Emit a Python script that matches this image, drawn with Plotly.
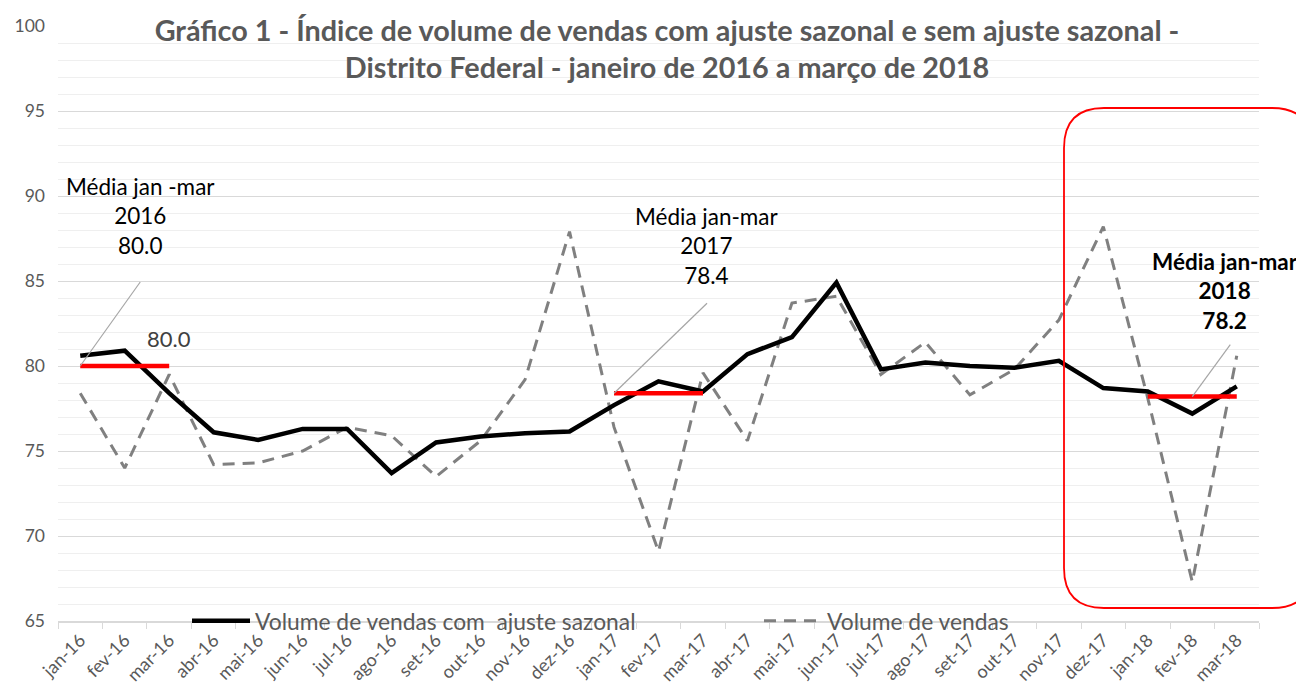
import plotly.graph_objects as go

months = ["jan-16", "fev-16", "mar-16", "abr-16", "mai-16", "jun-16", "jul-16", "ago-16", "set-16",
          "out-16", "nov-16", "dez-16", "jan-17", "fev-17", "mar-17", "abr-17", "mai-17", "jun-17",
          "jul-17", "ago-17", "set-17", "out-17", "nov-17", "dez-17", "jan-18", "fev-18", "mar-18"]
com_ajuste = [80.6, 80.9, 78.4, 76.1, 75.65, 76.3, 76.3, 73.7, 75.5, 75.85, 76.05, 76.15,
              77.7, 79.1, 78.5, 80.7, 81.7, 84.9, 79.8, 80.2, 80.0, 79.9, 80.3, 78.7,
              78.5, 77.2, 78.8]
sem_ajuste = [78.4, 74.0, 79.5, 74.2, 74.3, 75.0, 76.4, 75.9, 73.5, 75.6, 79.2, 87.9,
              76.4, 69.1, 79.6, 75.6, 83.7, 84.1, 79.5, 81.4, 78.3, 79.8, 82.7, 88.2,
              78.1, 67.3, 80.6]
media_inicio = ["jan-16", "jan-17", "jan-18"]
media_fim = ["mar-16", "mar-17", "mar-18"]
media_valor = [80.0, 78.4, 78.2]
media_rotulo = ["Média jan -mar<br>2016<br>80.0", "Média jan-mar<br>2017<br>78.4",
                "<b>Média jan-mar<br>2018<br>78.2</b>"]

# the page body adds an 8px margin, so the figure is sized to fill the rest of the window
OFF = 8
W, H = 1304 - OFF, 684 - OFF
ML, MR, MT, MB = 50, 45, 18, 63
PW, PH = W - ML - MR, H - MT - MB

def px(sx):
    return (sx - OFF - ML) / PW

def py(sy):
    return (H - MB - (sy - OFF)) / PH

FONT = "Lato"
GREY_TXT = "#595959"

fig = go.Figure()
fig.add_trace(go.Scatter(x=months, y=sem_ajuste, mode="lines", name="Volume de vendas",
                         line=dict(color="#808080", width=3, dash="12px,8px"), legend="legend2"))
fig.add_trace(go.Scatter(x=months, y=com_ajuste, mode="lines",
                         name="Volume de vendas com  ajuste sazonal",
                         line=dict(color="#000000", width=4.5), legend="legend"))
for a, b, v in zip(media_inicio, media_fim, media_valor):
    fig.add_trace(go.Scatter(x=[a, b], y=[v, v], mode="lines", showlegend=False,
                             line=dict(color="#ff0000", width=4.5)))

shapes = []
# white box behind the title
shapes.append(dict(type="rect", xref="paper", yref="paper", x0=px(150), x1=px(1185),
                   y0=py(88), y1=py(14), fillcolor="white", line=dict(width=0), layer="between"))
# rounded red frame
L, R, T, B, r = 1064, 1312, 108, 608, 40
path = (f"M {px(L+r)},{py(T)} L {px(R-r)},{py(T)} Q {px(R)},{py(T)} {px(R)},{py(T+r)} "
        f"L {px(R)},{py(B-r)} Q {px(R)},{py(B)} {px(R-r)},{py(B)} "
        f"L {px(L+r)},{py(B)} Q {px(L)},{py(B)} {px(L)},{py(B-r)} "
        f"L {px(L)},{py(T+r)} Q {px(L)},{py(T)} {px(L+r)},{py(T)} Z")
shapes.append(dict(type="path", xref="paper", yref="paper", path=path,
                   line=dict(color="#ff0000", width=1.8)))

# leader lines anchored on data points (pixel offsets)
leaders = [(media_inicio[0], media_valor[0], 60, 84),
           (media_inicio[1], media_valor[1], 93, 90),
           (months[25], media_valor[2], 38, 52)]
for xa, ya, dx, dy in leaders:
    shapes.append(dict(type="line", xref="x", yref="y", xsizemode="pixel", ysizemode="pixel",
                       xanchor=xa, yanchor=ya, x0=0, y0=0, x1=dx, y1=dy,
                       line=dict(color="#a6a6a6", width=1.2)))

annotations = []
label_pos = [(media_inicio[0], media_valor[0], 60, 150),
             (media_inicio[1], media_valor[1], 93, 147),
             (months[25], media_valor[2], 33, 106)]
for (xa, ya, dx, dy), txt in zip(label_pos, media_rotulo):
    annotations.append(dict(x=xa, y=ya, xref="x", yref="y", text=txt, showarrow=False,
                            xshift=dx, yshift=dy, xanchor="center", yanchor="middle",
                            font=dict(family=FONT, size=22.5, color="#000000")))
annotations.append(dict(x=media_fim[0], y=media_valor[0], xref="x", yref="y",
                        text=f"{media_valor[0]:.1f}", showarrow=False, yshift=28,
                        xanchor="center", yanchor="middle",
                        font=dict(family=FONT, size=22, color="#404040")))

legend_common = dict(orientation="h", y=0, yanchor="middle", bgcolor="rgba(0,0,0,0)",
                     font=dict(family=FONT, size=22.8, color=GREY_TXT), itemwidth=58)

fig.update_layout(
    width=W, height=H,
    margin=dict(l=ML, r=MR, t=MT, b=MB, autoexpand=False),
    paper_bgcolor="white", plot_bgcolor="white",
    title=dict(text="Gráfico 1 - Índice de volume de vendas com ajuste sazonal e sem ajuste sazonal -<br>"
                    "Distrito Federal - janeiro de 2016 a março de 2018",
               x=px(667), xref="paper", xanchor="center", y=1 - 33 / H, yref="container",
               yanchor="middle", font=dict(family=FONT, size=28.8, color=GREY_TXT, weight="bold")),
    xaxis=dict(type="category", categoryorder="array", categoryarray=months,
               range=[-0.5, len(months) - 0.5], tickson="boundaries", showgrid=False,
               showline=True, linecolor="#d9d9d9", linewidth=1.5, ticks="outside",
               ticklen=6, tickcolor="#d9d9d9", tickangle=-45, automargin=False,
               tickfont=dict(family=FONT, size=18, color=GREY_TXT)),
    yaxis=dict(range=[65, 100], dtick=5, tick0=65, showgrid=True, gridcolor="#d9d9d9",
               gridwidth=1.4, zeroline=False, showline=False, ticks="", automargin=False,
               ticklabelstandoff=12,
               tickfont=dict(family=FONT, size=17.5, color=GREY_TXT),
               minor=dict(dtick=1, tick0=65, showgrid=True, gridcolor="#efefef", gridwidth=1.4)),
    legend=dict(x=px(187), xanchor="left", **legend_common),
    legend2=dict(x=px(759), xanchor="left", **legend_common),
    shapes=shapes,
    annotations=annotations,
)

fig.write_html("out.html")
